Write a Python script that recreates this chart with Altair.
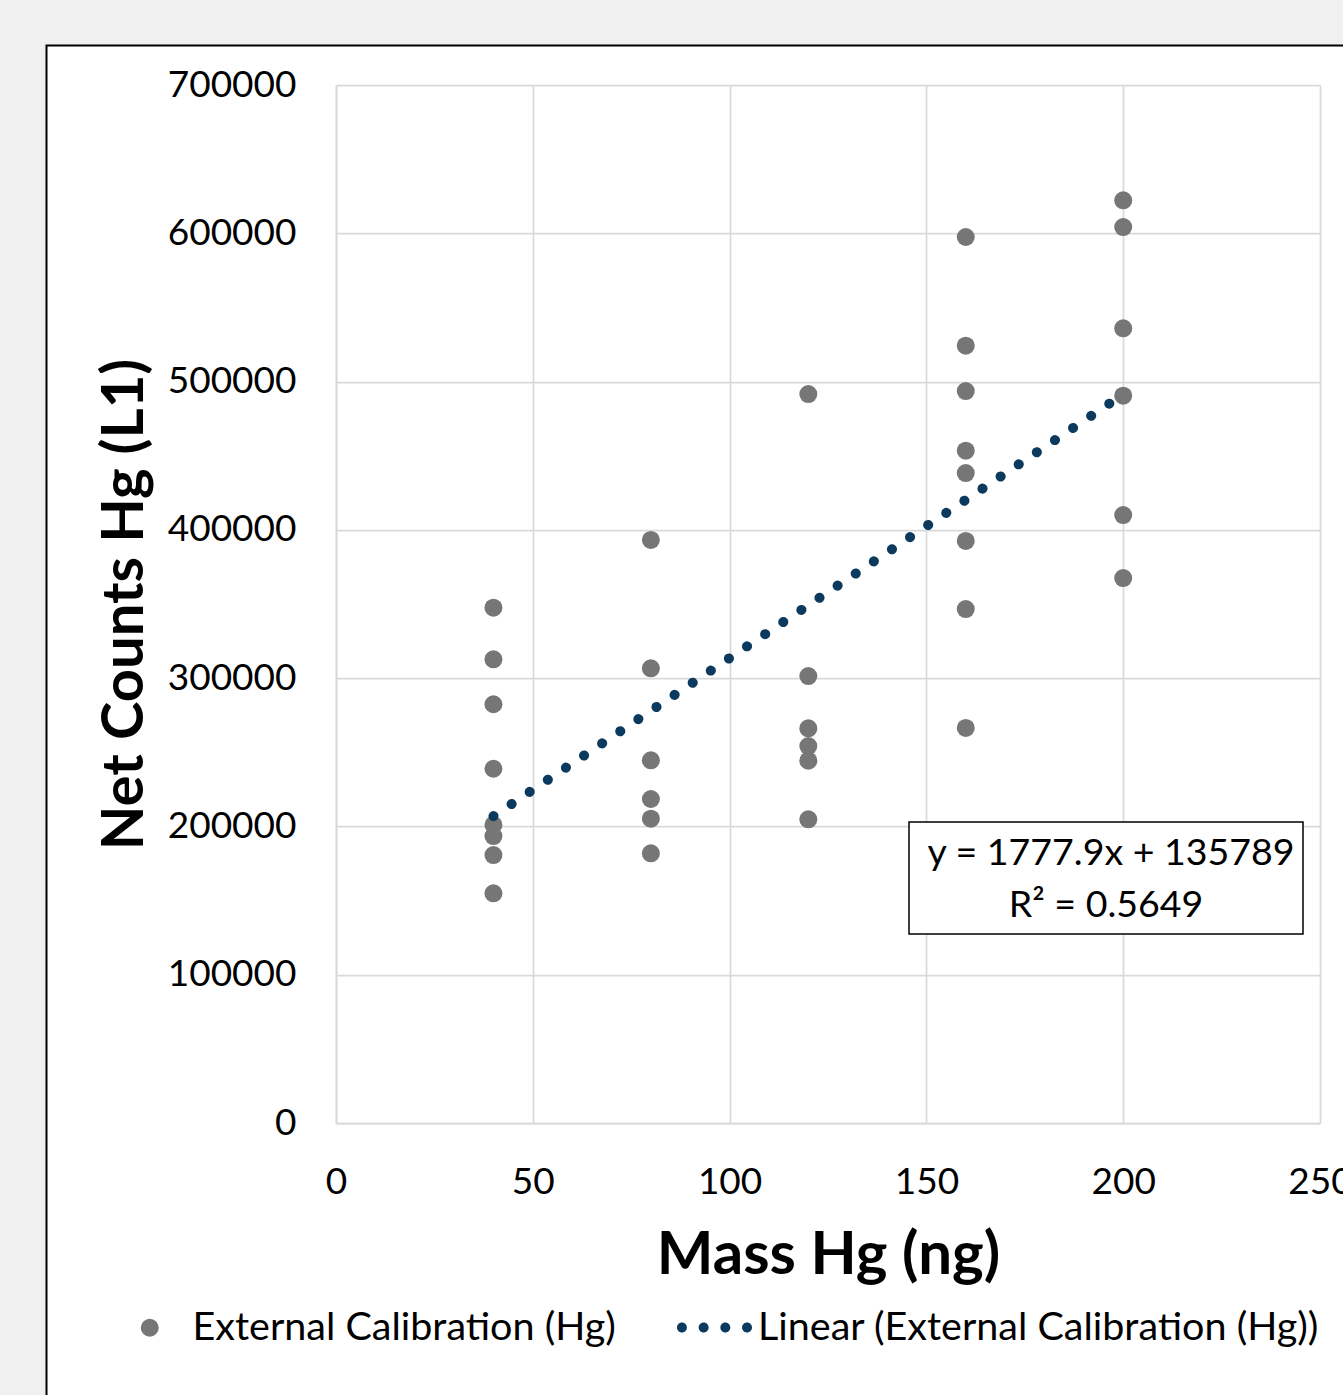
import altair as alt
import pandas as pd

# ---- data ----
mass_levels = [40, 80, 120, 160, 200]
counts_40 = [347500, 312700, 282400, 238900, 201000, 193500, 180700, 154900]
counts_80 = [393200, 306600, 244600, 218500, 205200, 181900]
counts_120 = [491600, 301400, 266200, 254200, 244300, 204800]
counts_160 = [597500, 524200, 493600, 453400, 438300, 392500, 346600, 266400]
counts_200 = [622200, 604200, 535900, 490500, 410000, 367500]

trend_slope = 1777.9
trend_intercept = 135789
trend_r2 = 0.5649
trend_x = [40, 200]

x_ticks = [0, 50, 100, 150, 200, 250]
y_ticks = [0, 100000, 200000, 300000, 400000, 500000, 600000, 700000]

points_name = "External Calibration (Hg)"
trend_name = "Linear (External Calibration (Hg))"
eq_lines = ["y = 1777.9x + 135789", "R² = 0.5649"]

# ---- tables ----
rows = []
for m, vals in zip(mass_levels, [counts_40, counts_80, counts_120, counts_160, counts_200]):
    for v in vals:
        rows.append({"mass": m, "counts": v, "series": points_name})
pts = pd.DataFrame(rows)
trend = pd.DataFrame({"mass": trend_x,
                      "counts": [trend_slope * x + trend_intercept for x in trend_x],
                      "series": [trend_name] * len(trend_x)})

FONT = "Lato"
GREY = "#767676"
NAVY = "#0b3a5e"
LEG_FS = 39.5

xs = alt.Scale(domain=[0, 250], nice=False, zero=True)
ys = alt.Scale(domain=[0, 700000], nice=False, zero=True)

xax = alt.Axis(values=x_ticks, title="Mass Hg (ng)", labelPadding=41, titlePadding=26,
               titleFontSize=60, grid=True, ticks=False, labelFlush=False)
yax = alt.Axis(values=y_ticks, title="Net Counts Hg (L1)", format="d", labelPadding=40,
               titlePadding=13, titleFontSize=58, grid=True, ticks=False)

points = alt.Chart(pts).mark_point(filled=True, size=324, opacity=1).encode(
    x=alt.X("mass:Q", scale=xs, axis=xax),
    y=alt.Y("counts:Q", scale=ys, axis=yax),
    color=alt.Color("series:N", scale=alt.Scale(domain=[points_name], range=[GREY]),
                    legend=alt.Legend(orient="none", legendX=-206, legendY=1223, title=None,
                                      labelFont=FONT, labelFontSize=LEG_FS, labelColor="black",
                                      labelLimit=0,
                                      symbolType="circle", symbolSize=324, labelOffset=23,
                                      padding=0, symbolStrokeWidth=0)),
)

line = alt.Chart(trend).mark_line(strokeDash=[0.1, 21.7], strokeCap="round",
                                  strokeWidth=10, color=NAVY).encode(
    x=alt.X("mass:Q", scale=xs), y=alt.Y("counts:Q", scale=ys))

r = 0.133
dots_path = " ".join(
    f"M{c - r:.3f},0a{r},{r} 0 1,0 {2 * r:.3f},0a{r},{r} 0 1,0 {-2 * r:.3f},0Z"
    for c in [-0.868, -0.289, 0.289, 0.868])

legend_dummy = alt.Chart(trend).mark_point(filled=True, opacity=0, color=NAVY).encode(
    x=alt.X("mass:Q", scale=xs), y=alt.Y("counts:Q", scale=ys),
    shape=alt.Shape("series:N", scale=alt.Scale(domain=[trend_name], range=[dots_path]),
                    legend=alt.Legend(orient="none", legendX=341, legendY=1205, title=None,
                                      labelFont=FONT, labelFontSize=LEG_FS, labelColor="black",
                                      labelLimit=0,
                                      symbolSize=5625, symbolFillColor=NAVY, symbolOpacity=1,
                                      symbolStrokeWidth=0, labelOffset=6, padding=0)),
)

one = pd.DataFrame({"k": [0]})
box = alt.Chart(one).mark_rect(fill="white", stroke="black", strokeWidth=1.5).encode(
    x=alt.value(573), x2=alt.value(967), y=alt.value(737), y2=alt.value(849))

eq1 = alt.Chart(pd.DataFrame({"t": [eq_lines[0]]})).mark_text(
    font=FONT, fontSize=37.5, color="black", align="center", baseline="middle").encode(
    x=alt.value(775), y=alt.value(769), text="t:N")
eq2 = alt.Chart(pd.DataFrame({"t": [eq_lines[1]]})).mark_text(
    font=FONT, fontSize=37.5, color="black", align="center", baseline="middle").encode(
    x=alt.value(770), y=alt.value(821), text="t:N")

strip_top = alt.Chart(one).mark_rect(color="#f0f0f0").encode(
    x=alt.value(-336), x2=alt.value(1007), y=alt.value(-85), y2=alt.value(-39.5))
strip_left = alt.Chart(one).mark_rect(color="#f0f0f0").encode(
    x=alt.value(-336), x2=alt.value(-289.5), y=alt.value(-85), y2=alt.value(1310))
frame = alt.Chart(one).mark_rect(fillOpacity=0, stroke="black", strokeWidth=2).encode(
    x=alt.value(-289.5), x2=alt.value(1100), y=alt.value(-39.5), y2=alt.value(1400))

chart = alt.layer(points, line, box, eq1, eq2, legend_dummy, strip_top, strip_left, frame).properties(
    width=984, height=1038,
    padding={"left": 336, "top": 85, "right": 23, "bottom": 272},
    autosize="none",
    background="white",
).configure_view(stroke=None).configure_axis(
    labelFont=FONT, labelFontSize=37, labelColor="black",
    titleFont=FONT, titleFontWeight="bold", titleColor="black",
    gridColor="#d9d9d9", gridWidth=1.75, domainColor="#d9d9d9", domainWidth=1.75,
).resolve_legend(color="independent", shape="independent")

chart.save("out.html", embed_options={"renderer": "svg", "actions": False})
